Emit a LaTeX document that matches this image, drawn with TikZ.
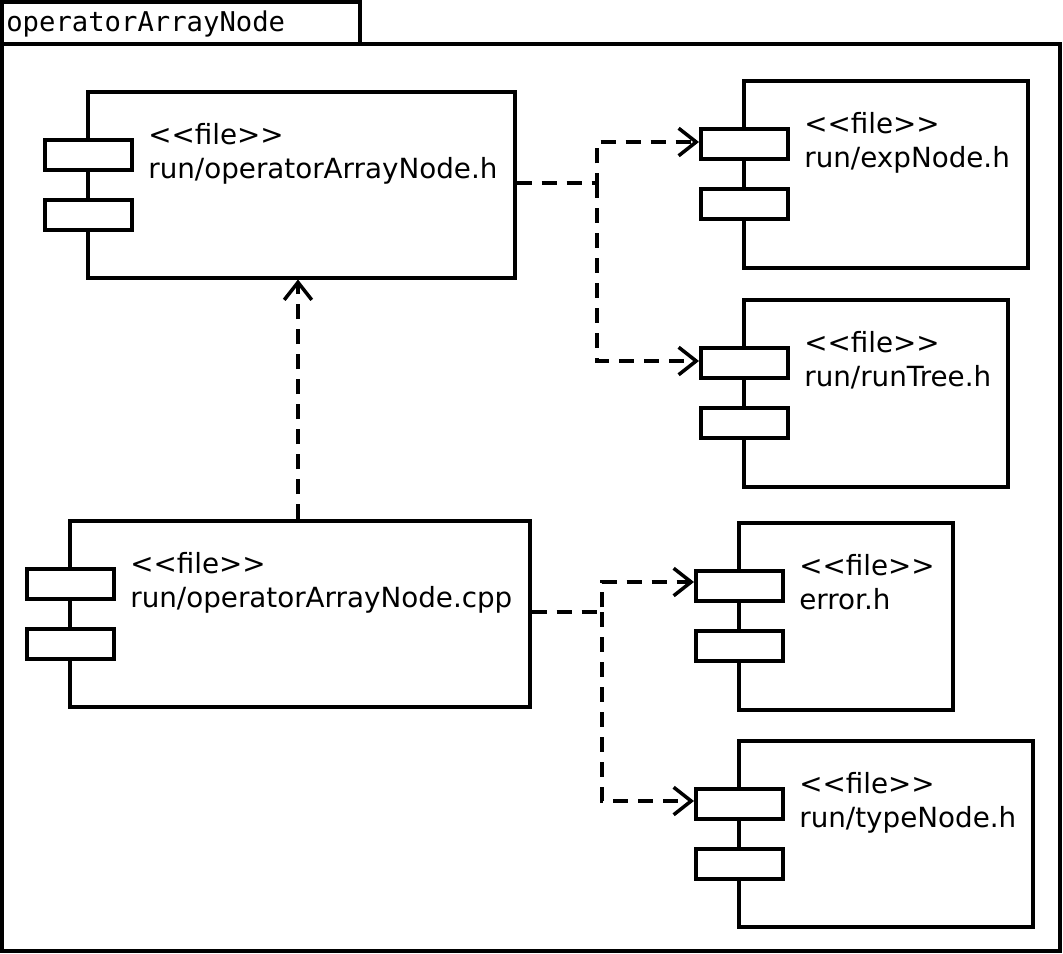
\documentclass[tikz,border=0pt]{standalone}
\usepackage{fontspec}
\setmainfont{DejaVu Sans}
\newfontfamily\monofont{DejaVu Sans Mono}
\usetikzlibrary{arrows.meta}
\tikzset{
  box/.style={draw, line width=2pt, fill=white, inner sep=0pt},
  port/.style={box, minimum width=1.74cm, minimum height=0.6cm},
  label/.style={anchor=north west, align=left, inner sep=0pt, font=\fontsize{15.8}{19.3}\selectfont},
  dep/.style={line width=2pt, dash pattern=on 0.3cm off 0.2cm, -{Straight Barb[length=0.35cm,width=0.55cm,line width=2pt]}},
}
\newcommand{\comp}[6]{% name, x1, y1, x2, y2, text
  \node[box, minimum width=#4cm-#2cm, minimum height=#3cm-#5cm, anchor=north west] (#1) at (#2,#3) {};
  \node[port, anchor=north west] (#1p1) at (#2-0.86,#3-0.96) {};
  \node[port, anchor=north west] (#1p2) at (#2-0.86,#3-2.16) {};
  \node[label] (#1t) at (#2+1.24,#3-0.66) {<{}<file>{}>\\#6};
}
\begin{document}
\begin{tikzpicture}
    \useasboundingbox (0,0) rectangle (21.26,-19.08);
    % package frame
    \draw[line width=2pt] (0.04,-0.88) rectangle (21.2,-19.02);
    \draw[line width=2pt] (0.04,-0.88) -- (0.04,-0.04) -- (7.2,-0.04) -- (7.2,-0.88);
    \node[anchor=west, inner sep=0pt, font=\monofont\fontsize{15.5}{18}\selectfont] (pkg) at (0.12,-0.48) {operatorArrayNode};

    % components
    \comp{hdr}{1.72}{-1.8}{10.26}{-5.52}{run/operatorArrayNode.h}
    \comp{exp}{14.84}{-1.58}{20.52}{-5.32}{run/expNode.h}
    \comp{tree}{14.84}{-5.96}{20.12}{-9.7}{run/runTree.h}
    \comp{cpp}{1.36}{-10.38}{10.56}{-14.1}{run/operatorArrayNode.cpp}
    \comp{err}{14.74}{-10.42}{19.02}{-14.16}{error.h}
    \comp{typ}{14.74}{-14.78}{20.62}{-18.5}{run/typeNode.h}

    % dependencies
    \coordinate (j1) at (11.94,-3.66);
    \coordinate (j2) at (12.04,-12.24);
    \draw[dep] (hdr.east |- j1) -- (j1) |- (expp1.west |- 0,-2.84);
    \draw[dep] (j1) |- (treep1.west |- 0,-7.22);
    \draw[dep] (cpp.east |- j2) -- (j2) |- (errp1.west |- 0,-11.64);
    \draw[dep] (j2) |- (typp1.west |- 0,-16.02);
    \draw[dep] (cpp.north -| 5.96,0) -- (hdr.south -| 5.96,0);
\end{tikzpicture}
\end{document}
